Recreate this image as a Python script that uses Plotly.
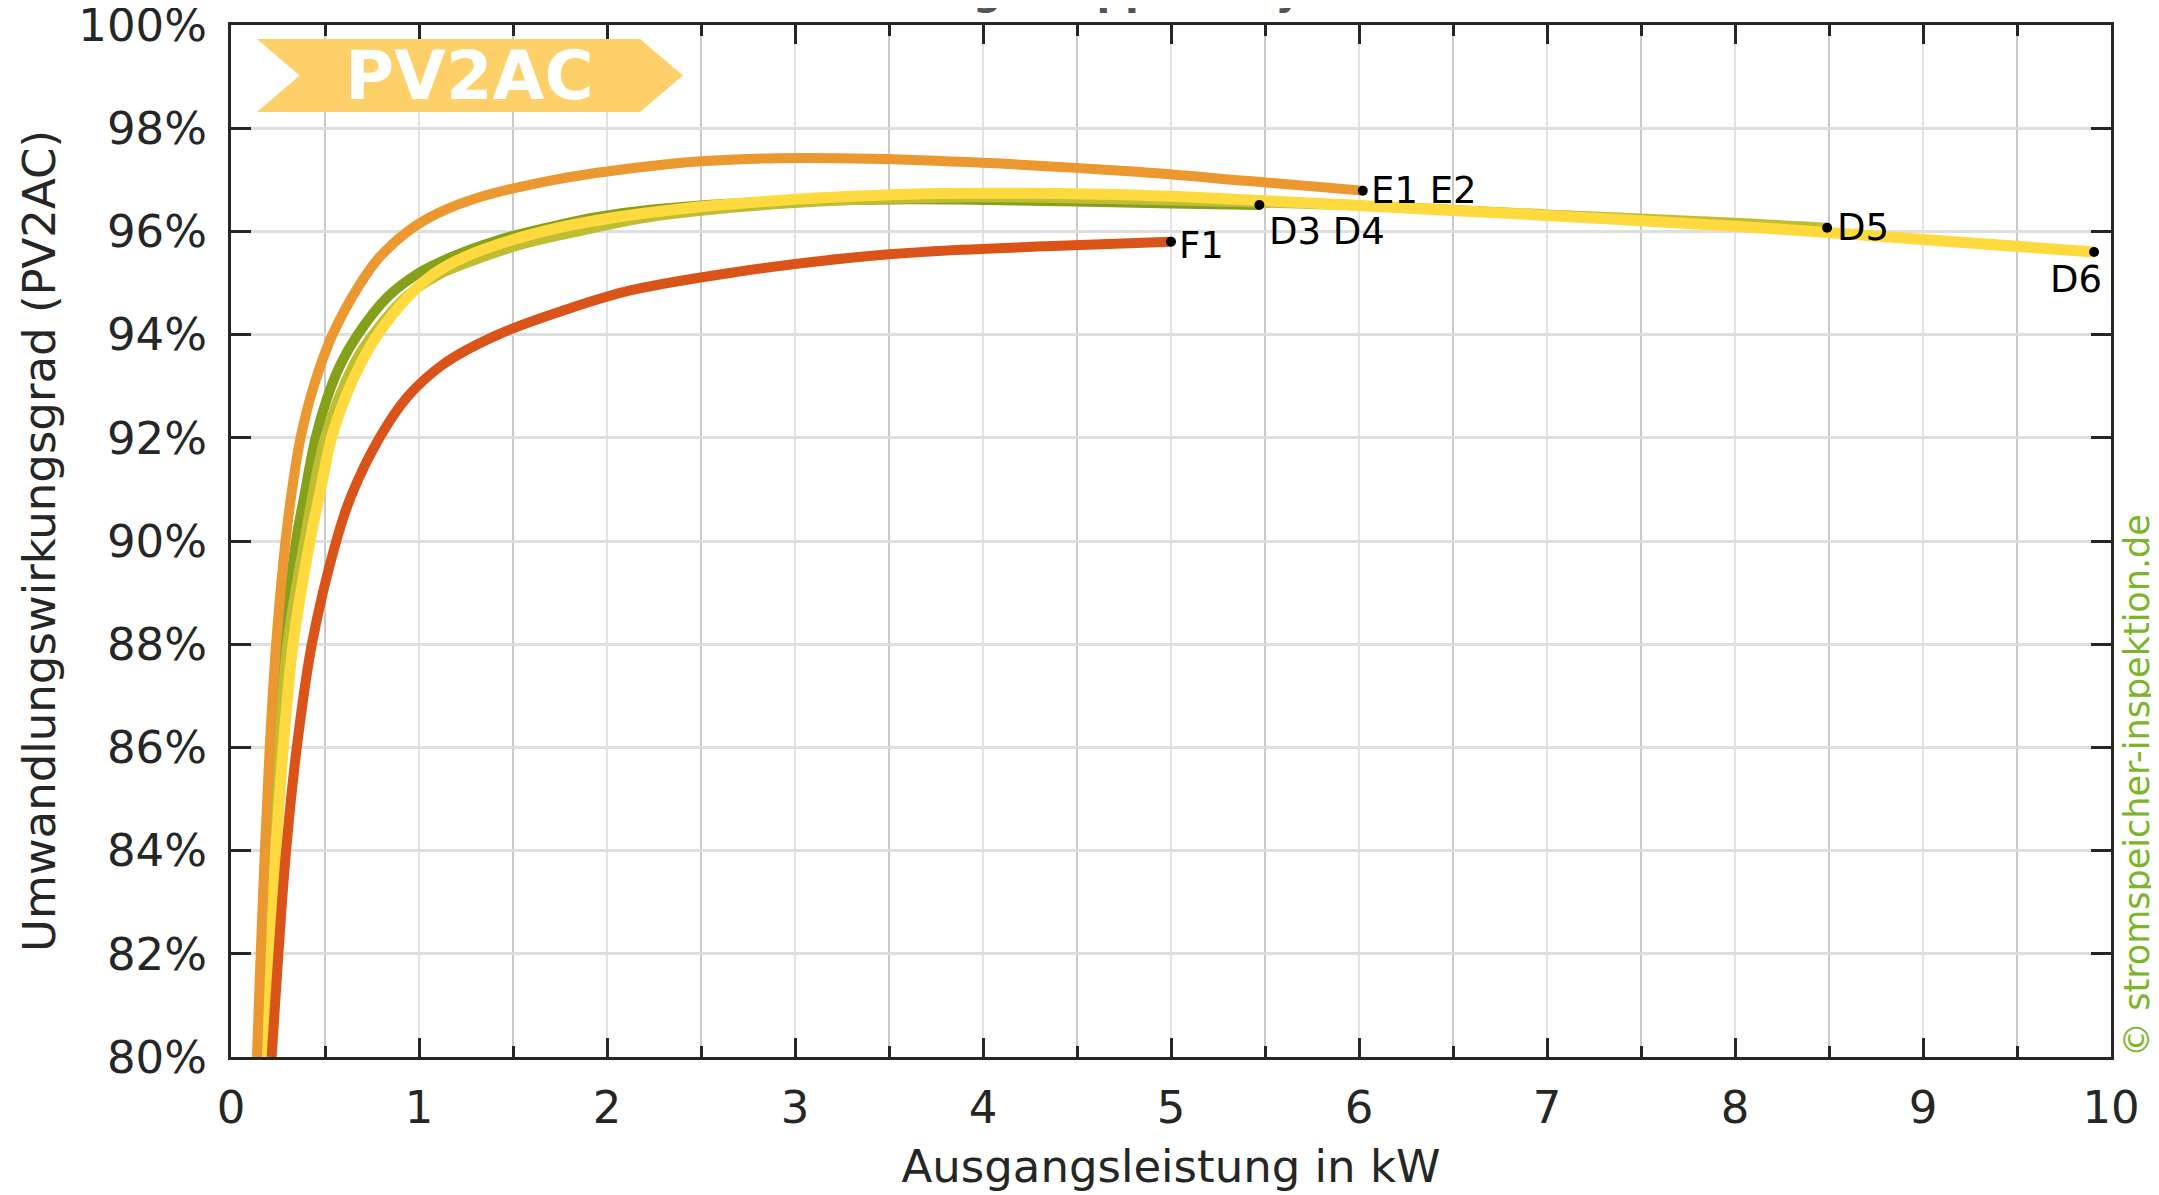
import plotly.graph_objects as go

# ---------------- data ----------------
# Output power in kW and PV2AC conversion efficiency in %
e_kw  = [0.138, 0.158, 0.18, 0.206, 0.24, 0.29, 0.325, 0.37, 0.44, 0.54, 0.69, 0.79, 0.94,
         1.1, 1.33, 1.72, 2.12, 2.5, 2.9, 3.4, 4.0, 4.8, 5.4, 6.02]
e_eff = [80.0, 82.0, 84.0, 86.0, 88.0, 90.0, 91.0, 92.0, 93.0, 94.0, 95.0, 95.5, 96.0,
         96.35, 96.67, 97.0, 97.22, 97.36, 97.42, 97.41, 97.33, 97.16, 96.98, 96.79]

d34_kw  = [0.174, 0.195, 0.22, 0.248, 0.285, 0.346, 0.39, 0.45, 0.514, 0.585, 0.674, 0.833, 0.993,
           1.17, 1.42, 1.70, 1.95, 2.23, 2.78, 3.51, 4.0, 5.0, 5.47]
d34_eff = [80.0, 82.0, 84.0, 86.0, 88.0, 90.0, 90.88, 92.0, 92.8, 93.44, 94.0, 94.73, 95.18,
           95.5, 95.83, 96.09, 96.28, 96.42, 96.56, 96.62, 96.61, 96.54, 96.51]

d5_kw  = [0.168, 0.19, 0.22, 0.254, 0.3, 0.39, 0.50, 0.655, 0.755, 0.93, 1.1, 1.3, 1.55,
          1.85, 2.23, 3.0, 4.0, 5.0, 6.0, 7.0, 8.0, 8.49]
d5_eff = [80.0, 82.0, 84.0, 86.0, 88.0, 90.0, 92.0, 93.44, 94.0, 94.73, 95.15, 95.45, 95.75,
          96.0, 96.28, 96.55, 96.66, 96.6, 96.5, 96.33, 96.17, 96.07]

d6_kw  = [0.177, 0.204, 0.238, 0.278, 0.33, 0.42, 0.47, 0.535, 0.61, 0.69, 0.78, 0.94, 1.08,
          1.24, 1.49, 1.74, 2.04, 2.4, 2.8, 3.2, 3.6, 4.0, 4.62, 5.0, 5.47, 6.32, 7.0,
          8.0, 8.49, 9.91]
d6_eff = [80.0, 82.0, 84.0, 86.0, 88.0, 90.0, 90.88, 92.0, 92.8, 93.44, 94.0, 94.73, 95.18,
          95.5, 95.83, 96.07, 96.27, 96.44, 96.57, 96.66, 96.72, 96.74, 96.72, 96.68, 96.6, 96.44, 96.31,
          96.1, 95.98, 95.6]

f1_kw  = [0.216, 0.252, 0.293, 0.35, 0.43, 0.56, 0.64, 0.79, 0.94, 1.135, 1.42, 1.77, 2.13,
          2.70, 3.27, 3.76, 4.41, 5.0]
f1_eff = [80.0, 82.0, 84.0, 86.0, 88.0, 90.0, 90.88, 92.0, 92.8, 93.44, 94.0, 94.47, 94.86,
          95.22, 95.48, 95.62, 95.72, 95.8]

x_ticks = [0, 1, 2, 3, 4, 5, 6, 7, 8, 9, 10]
y_ticks = [80, 82, 84, 86, 88, 90, 92, 94, 96, 98, 100]
y_tick_text = ["80%", "82%", "84%", "86%", "88%", "90%", "92%", "94%", "96%", "98%", "100%"]

FONT = "DejaVu Sans"
INK = "#262626"

series = [
    # name, x, y, colour, width, label, label xshift, yshift, anchor
    ("D3 D4", d34_kw, d34_eff, "#87A01B", 10, "D3 D4", 8, -26, "left"),
    ("D5", d5_kw, d5_eff, "#BFBE32", 10, "D5", 8, 0, "left"),
    ("D6", d6_kw, d6_eff, "#FEDA3F", 11, "D6", 10, -27, "right"),
    ("E1 E2", e_kw, e_eff, "#EA982F", 10, "E1 E2", 6, 0, "left"),
    ("F1", f1_kw, f1_eff, "#DA5319", 10, "F1", 6, -4, "left"),
]

fig = go.Figure()
for name, xs, ys, col, w, *_ in series:
    fig.add_trace(go.Scatter(x=xs, y=ys, mode="lines", name=name,
                             line=dict(color=col, width=w, shape="spline", smoothing=1.0),
                             hoverinfo="skip", showlegend=False))

# end points
fig.add_trace(go.Scatter(
    x=[s[1][-1] for s in series], y=[s[2][-1] for s in series], mode="markers",
    marker=dict(color="#000000", size=10), showlegend=False, hoverinfo="skip"))

annotations = []
for name, xs, ys, col, w, lab, xsh, ysh, anc in series:
    annotations.append(dict(x=xs[-1], y=ys[-1], xref="x", yref="y", text=lab, showarrow=False,
                            xanchor=anc, yanchor="middle", xshift=xsh, yshift=ysh,
                            font=dict(family=FONT, size=37, color="#000000")))

# badge text
annotations.append(dict(x=0.1266, y=0.951, xref="paper", yref="paper", text="<b>PV2AC</b>",
                        showarrow=False, xanchor="center", yanchor="middle",
                        font=dict(family=FONT, size=67, color="#FFFFFF")))
# watermark
annotations.append(dict(x=1.0138, y=0.2636, xref="paper", yref="paper",
                        text="© stromspeicher-inspektion.de", textangle=-90, showarrow=False,
                        xanchor="center", yanchor="middle", borderpad=0,
                        font=dict(family=FONT, size=35, color="#7DB52A")))
# title (mostly above the visible page)
annotations.append(dict(x=0.252, y=1.0095, xref="paper", yref="paper",
                        text="<b>Umwandlung Gruppe D Hybrid</b>", showarrow=False,
                        xanchor="left", yanchor="bottom",
                        font=dict(family=FONT, size=40, color="#555555")))

badge = dict(type="path", xref="paper", yref="paper",
             path="M 0.0138 0.9864 L 0.2176 0.9864 L 0.2404 0.9510 L 0.2176 0.9157 "
                  "L 0.0138 0.9157 L 0.0365 0.9510 Z",
             fillcolor="#FDD06A", line=dict(width=0), layer="above")

# the page body has an 8 px margin, so the figure is 8 px smaller than the window
fig.update_layout(
    width=2151, height=1187,
    margin=dict(l=223, r=48, t=17, b=138, autoexpand=False),
    paper_bgcolor="#FFFFFF", plot_bgcolor="#FFFFFF",
    font=dict(family=FONT, size=45, color=INK),
    annotations=annotations,
    shapes=[badge],
)

fig.update_xaxes(
    range=[0, 10], tickvals=x_ticks, ticks="inside", ticklen=19, tickwidth=2.5, tickcolor=INK,
    showline=True, linecolor=INK, linewidth=3, mirror="ticks", automargin=False,
    showgrid=True, gridcolor="#E2E2E2", gridwidth=2, zeroline=False,
    minor=dict(dtick=0.5, tick0=0, ticks="inside", ticklen=11, tickwidth=2.5, tickcolor=INK,
               showgrid=True, gridcolor="#C9C9C9", gridwidth=2),
    tickfont=dict(family=FONT, size=45, color=INK), ticklabelstandoff=9,
    ticklabeloverflow="allow",
    title=dict(text="Ausgangsleistung in kW", font=dict(family=FONT, size=45, color=INK), standoff=18),
)
fig.update_yaxes(
    range=[80, 100], tickvals=y_ticks, ticktext=y_tick_text, ticks="inside", ticklen=20,
    tickwidth=2.5, tickcolor=INK, showline=True, linecolor=INK, linewidth=3, mirror="ticks",
    automargin=False, showgrid=True, gridcolor="#DEDEDE", gridwidth=2.5, zeroline=False,
    tickfont=dict(family=FONT, size=45, color=INK), ticklabelstandoff=12,
    ticklabeloverflow="allow",
    title=dict(text="Umwandlungswirkungsgrad (PV2AC)", font=dict(family=FONT, size=45, color=INK),
               standoff=9),
)

fig.write_html("out.html")
